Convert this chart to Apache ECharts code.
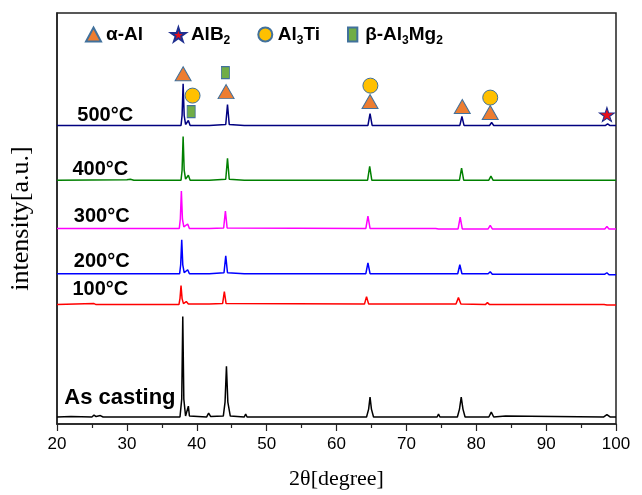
<!DOCTYPE html>
<html>
<head>
<meta charset="utf-8">
<script src="https://cdn.jsdelivr.net/npm/echarts@6/dist/echarts.min.js"></script>
<style>
html,body{margin:0;padding:0;background:#fff;}
#chart{width:642px;height:495px;}
</style>
</head>
<body>
<div id="chart"></div>
<script>
// ---------- data (2θ in degrees, intensity in a.u. incl. stacking offset) ----------
const xTicks = [20, 30, 40, 50, 60, 70, 80, 90, 100];

const asCasting = [
  [20,7],[22,7.5],[25.0,7],[25.3,9],[25.6,7.5],[26.2,8.5],[26.6,7],[32,7],[37.6,7],[37.85,25],[38.0,108],[38.15,25],[38.4,8],
  [38.65,9],[38.8,18],[38.95,8],[41.4,7],[41.7,11],[42.0,7.5],[43.8,8],[44.05,22],[44.25,58],[44.45,22],[44.8,8],
  [46.8,7],[47.0,10],[47.2,7],[64.3,7],[64.6,15],[64.8,27],[65.0,15],[65.3,7],[68.8,7],[69.0,8],[69.2,7],
  [74.4,7],[74.6,10],[74.8,7],[77.3,7],[77.6,15],[77.85,27],[78.1,15],[78.4,7],[81.8,7],[82.15,12],[82.5,7],
  [84.2,8],[98.2,7],[98.7,9.5],[99.2,7],[100,7]
];
const t100 = [
  [20,120],[25.3,121],[25.6,120],[37.45,120],[37.6,126],[37.75,139],[37.9,126],[38.1,121],[38.5,123],[38.8,120.5],
  [41.3,120.5],[41.5,122],[41.8,120.5],[43.7,121],[43.95,133],[44.2,121],[64.0,120.5],[64.3,128],[64.6,120.5],
  [77.1,120.5],[77.45,127],[77.8,120.5],[81.3,120],[81.6,122],[81.9,120],[98.3,120],[98.5,121.5],[98.7,119.5],[100,119.5]
];
const t200 = [
  [20,151],[37.55,151],[37.7,160],[37.85,185],[38.0,160],[38.2,152],[38.7,155],[38.95,151],[41.4,151],[41.6,153],
  [41.8,151],[43.9,152],[44.15,169],[44.4,152],[46.8,151],[47.0,152],[47.2,151],[64.2,151],[64.5,162],[64.8,151],
  [77.35,151],[77.65,160],[77.95,151],[81.7,151],[82.0,153],[82.3,150.5],[98.4,150.5],[98.7,152],[99.0,150],[100,150]
];
const t300 = [
  [20,196.5],[37.5,196.5],[37.65,206],[37.8,234],[37.95,206],[38.15,198],[38.7,201],[38.95,196.5],[41.4,196.5],
  [41.6,198],[41.8,196.5],[43.85,197],[44.1,214],[44.35,197],[64.2,196.5],[64.5,209],[64.8,196.5],[74.2,196.5],
  [74.4,198],[74.6,196],[77.4,196],[77.7,208],[78.0,196],[81.7,196],[82.0,199.5],[82.3,196],[98.4,196],[98.7,198.5],
  [99.0,196],[100,196]
];
const t400 = [
  [20,245],[30,245.5],[30.5,246],[31,245],[37.75,245],[37.9,255],[38.05,289],[38.2,255],[38.4,246],[38.8,250],
  [39.05,245],[41.4,245],[41.6,247],[41.8,245],[44.15,246],[44.4,267],[44.65,246],[46.8,245],[47.0,246],[47.2,245],
  [64.45,245],[64.75,259],[65.05,245],[77.6,245],[77.9,257],[78.2,245],[81.8,245],[82.1,249],[82.4,245],
  [98.5,245],[98.7,247],[98.9,245],[100,245]
];
const t500 = [
  [20,300],[37.75,300],[37.9,310],[38.05,342],[38.2,310],[38.4,301],[38.8,305],[39.05,300],[41.4,300],[41.6,302],
  [41.8,300],[44.15,301],[44.4,321],[44.65,301],[46.8,300],[47.0,302],[47.2,300],[64.5,300],[64.8,312],[65.1,300],
  [77.65,300],[77.95,309],[78.25,300],[81.9,300],[82.2,303],[82.5,300],[98.5,300],[98.8,301.5],[99.1,300],[100,300]
];

// phase markers
const alphaAl = [[38.05,352],[44.2,334],[64.8,324],[78.0,319],[82.0,313]];
const alB2    = [[98.7,311]];
const al3Ti   = [[39.4,330],[64.85,340],[82.0,328]];
const betaMg  = [[39.2,314],[44.1,353]];

const traceNames = ['500°C','400°C','300°C','200°C','100°C','As casting'];
const phaseNames = ['α-Al','AlB2','Al3Ti','β-Al3Mg2'];

// ---------- layout / style ----------
const traceData   = [t500, t400, t300, t200, t100, asCasting];
const traceColors = ['#000080','#008000','#FF00FF','#0000FF','#FF0000','#000000'];
const labelPos    = [[26.9,310],[26.2,256],[26.4,209],[26.4,163],[26.2,135],[29.0,26]];
const labelSize   = [20, 20, 20, 20, 20, 22];
const edge = '#41719C';
const starPath = 'path://M50,0 L61,35 L98,35 L68,57 L79,91 L50,70 L21,91 L32,57 L2,35 L39,35 Z';
const rectPath = 'path://M0,0 L8,0 L8,12 L0,12 Z';

const chart = echarts.init(document.getElementById('chart'), null, {renderer:'canvas'});

const series = [];
traceData.forEach((d, i) => {
  series.push({
    name: traceNames[i], type: 'line', data: d, symbol: 'none', silent: true,
    lineStyle: {color: traceColors[i], width: 1.5}, z: 2
  });
});
series.push({
  name: 'labels', type: 'scatter', symbolSize: 0, silent: true, z: 5,
  itemStyle: {opacity: 1},
  data: labelPos.map((p, i) => ({
    value: p, name: traceNames[i],
    label: {fontSize: labelSize[i]}
  })),
  label: {show: true, position: 'inside', formatter: p => p.name,
          color: '#000', fontWeight: 'bold', fontFamily: 'Liberation Sans, Arial'}
});
series.push({name: phaseNames[0], type: 'scatter', data: alphaAl, symbol: 'triangle', symbolSize: [16,14], z: 6,
  itemStyle: {color: '#ED7D31', borderColor: edge, borderWidth: 1, opacity: 1}});
series.push({name: phaseNames[1], type: 'scatter', data: alB2, symbol: starPath, symbolSize: [15,14], z: 6,
  itemStyle: {color: '#E8101A', borderColor: '#1F2F8F', borderWidth: 1, opacity: 1}});
series.push({name: phaseNames[2], type: 'scatter', data: al3Ti, symbol: 'circle', symbolSize: 15, z: 6,
  itemStyle: {color: '#FFC000', borderColor: edge, borderWidth: 1, opacity: 1}});
series.push({name: phaseNames[3], type: 'scatter', data: betaMg, symbol: rectPath, symbolSize: [8,12], z: 6,
  itemStyle: {color: '#70AD47', borderColor: edge, borderWidth: 1, opacity: 1}});

const legendFmt = {
  'α-Al': '{a|α-Al}',
  'AlB2': '{a|AlB}{s|2}',
  'Al3Ti': '{a|Al}{s|3}{a|Ti}',
  'β-Al3Mg2': '{a|β-Al}{s|3}{a|Mg}{s|2}'
};

chart.setOption({
  animation: false,
  backgroundColor: '#fff',
  grid: {left: 56, right: 26, top: 13, bottom: 69, show: true, borderColor: '#222', borderWidth: 1.5, backgroundColor: 'transparent'},
  legend: {
    data: [
      {name: phaseNames[0], icon: 'triangle'},
      {name: phaseNames[1], icon: starPath},
      {name: phaseNames[2], icon: 'circle'},
      {name: phaseNames[3], icon: rectPath}
    ],
    left: 80, top: 20, itemWidth: 15, itemHeight: 14, itemGap: 27, selectedMode: false,
    formatter: n => legendFmt[n],
    textStyle: {
      color: '#000',
      rich: {
        a: {fontSize: 19, fontWeight: 'bold', fontFamily: 'Liberation Sans, Arial', color: '#000', lineHeight: 24, verticalAlign: 'middle'},
        s: {fontSize: 12, fontWeight: 'bold', fontFamily: 'Liberation Sans, Arial', color: '#000', lineHeight: 12, verticalAlign: 'bottom'}
      }
    }
  },
  xAxis: {
    type: 'value', min: xTicks[0], max: xTicks[xTicks.length-1], interval: 10,
    name: '2θ[degree]', nameLocation: 'middle', nameGap: 44,
    nameTextStyle: {fontFamily: 'Liberation Serif, Times New Roman', fontSize: 22, color: '#000'},
    axisLine: {show: true, lineStyle: {color: '#222', width: 1.5}},
    axisTick: {show: true, inside: false, length: 7, lineStyle: {color: '#222', width: 1.2}},
    minorTick: {show: true, splitNumber: 2, length: 4, lineStyle: {color: '#222', width: 1.2}},
    axisLabel: {fontSize: 17, color: '#000', fontFamily: 'Liberation Sans, Arial', margin: 12},
    splitLine: {show: false}
  },
  yAxis: {
    type: 'value', min: 0, max: 413,
    name: 'intensity[a.u.]', nameLocation: 'middle', nameGap: 23,
    nameTextStyle: {fontFamily: 'Liberation Serif, Times New Roman', fontSize: 26, color: '#000'},
    axisLine: {show: true, lineStyle: {color: '#222', width: 1.5}},
    axisTick: {show: false}, axisLabel: {show: false}, splitLine: {show: false}
  },
  series: series
});
</script>
</body>
</html>
